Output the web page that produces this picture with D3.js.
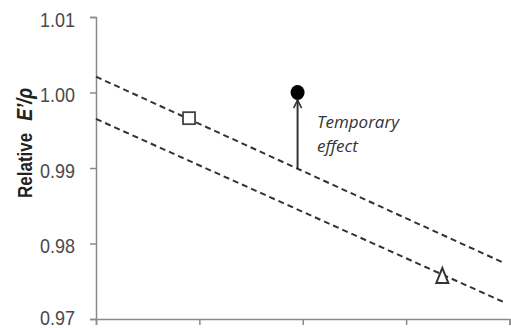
<!DOCTYPE html>
<html>
<head>
<meta charset="utf-8">
<script src="https://cdn.jsdelivr.net/npm/d3@7"></script>
<style>
  body { margin: 0; background: #fff; }
  svg { display: block; }
</style>
</head>
<body>
<svg id="chart" width="511" height="328"></svg>
<script>
// values
const yTicks = [0.97, 0.98, 0.99, 1.00, 1.01]
const xTicks = [0, 1, 2, 3, 4]
const upperLine = [{x: 0, y: 1.0021}, {x: 3.95, y: 0.9774}]
const lowerLine = [{x: 0, y: 0.9965}, {x: 3.95, y: 0.9722}]
const squarePt = {x: 0.9, y: 0.9966}
const circlePt = {x: 1.95, y: 1.0000}
const trianglePt = {x: 3.35, y: 0.9757}
const arrowFrom = {x: 1.95, y: 0.9899}
const arrowTo = {x: 1.95, y: 0.9990}

const svg = d3.select('#chart')
const margin = {left: 96, top: 17, right: 1, bottom: 9}
const width = 511 - margin.left - margin.right
const height = 328 - margin.top - margin.bottom

const x = d3.scaleLinear().domain([0, 4]).range([0, width - 0.5])
const y = d3.scaleLinear().domain([0.97, 1.01]).range([height, 0])

const g = svg.append('g').attr('transform', `translate(${margin.left},${margin.top})`)

const axisColor = '#8a8a8a'

// y axis
const yAxis = g.append('g')
    .call(d3.axisLeft(y).tickValues(yTicks).tickFormat(d3.format('.2f')).tickSize(6).tickPadding(15))
yAxis.select('.domain').attr('stroke', axisColor).attr('stroke-width', 1.5)
yAxis.selectAll('.tick line').attr('stroke', axisColor).attr('stroke-width', 1.5)
yAxis.selectAll('.tick text')
    .attr('fill', '#4a4a4a')
    .attr('dy', d => d === 0.97 ? '0.26em' : '0.45em')
    .attr('transform', 'scale(1,1.12)')
    .style('font-family', 'Liberation Sans, Arial, sans-serif')
    .style('font-size', '18px')

// x axis
const xAxis = g.append('g')
    .attr('transform', `translate(0,${height})`)
    .call(d3.axisBottom(x).tickValues(xTicks).tickFormat('').tickSize(6).tickSizeOuter(6))
xAxis.select('.domain').attr('stroke', axisColor).attr('stroke-width', 1.5)
xAxis.selectAll('.tick line').attr('stroke', axisColor).attr('stroke-width', 1.5)

// y label
const ylab = svg.append('text')
    .attr('transform', 'translate(32,198) rotate(-90) scale(1,1.2)')
    .attr('text-anchor', 'start')
    .attr('fill', '#222')
    .style('font-family', 'Liberation Sans, Arial, sans-serif')
    .style('font-size', '17px')
    .style('font-weight', 'bold')
ylab.append('tspan').text('Relative')
ylab.append('tspan').attr('dx', 12).style('font-style', 'italic').style('font-size', '18px').text('E’/ρ')

// dashed lines
const line = d3.line().x(d => x(d.x)).y(d => y(d.y))
g.selectAll('.trend')
    .data([upperLine, lowerLine])
    .enter()
    .append('path')
    .attr('class', 'trend')
    .attr('d', line)
    .attr('fill', 'none')
    .attr('stroke', '#333')
    .attr('stroke-width', 2)
    .attr('stroke-dasharray', '6,4')

// arrow
svg.append('defs').append('marker')
    .attr('id', 'head')
    .attr('viewBox', '0 0 10 10')
    .attr('refX', 9).attr('refY', 5)
    .attr('markerWidth', 5).attr('markerHeight', 5)
    .attr('orient', 'auto')
    .append('path')
    .attr('d', 'M1,1 L9,5 L1,9')
    .attr('fill', 'none')
    .attr('stroke', '#333')
    .attr('stroke-width', 1.6)

g.append('line')
    .attr('x1', x(arrowFrom.x)).attr('y1', y(arrowFrom.y))
    .attr('x2', x(arrowTo.x)).attr('y2', y(arrowTo.y))
    .attr('stroke', '#333')
    .attr('stroke-width', 2)
    .attr('marker-end', 'url(#head)')

// markers
g.append('rect')
    .attr('x', x(squarePt.x) - 6).attr('y', y(squarePt.y) - 6)
    .attr('width', 12).attr('height', 12)
    .attr('fill', '#fff')
    .attr('stroke', '#444')
    .attr('stroke-width', 1.8)

g.append('ellipse')
    .attr('cx', x(circlePt.x)).attr('cy', y(circlePt.y))
    .attr('rx', 7).attr('ry', 7.5)
    .attr('fill', '#000')

g.append('path')
    .attr('transform', `translate(${x(trianglePt.x)},${y(trianglePt.y)})`)
    .attr('d', 'M0,-8 L6,7 L-6,7 Z')
    .attr('fill', '#fff')
    .attr('stroke', '#333')
    .attr('stroke-width', 2)

// annotation
const note = svg.append('text')
    .attr('fill', '#333')
    .style('font-family', 'Open Sans, Liberation Sans, sans-serif')
    .style('font-style', 'italic')
    .style('font-size', '17px')
note.append('tspan').attr('x', 317).attr('y', 128).text('Temporary')
note.append('tspan').attr('x', 317).attr('y', 152).text('effect')
</script>
</body>
</html>
